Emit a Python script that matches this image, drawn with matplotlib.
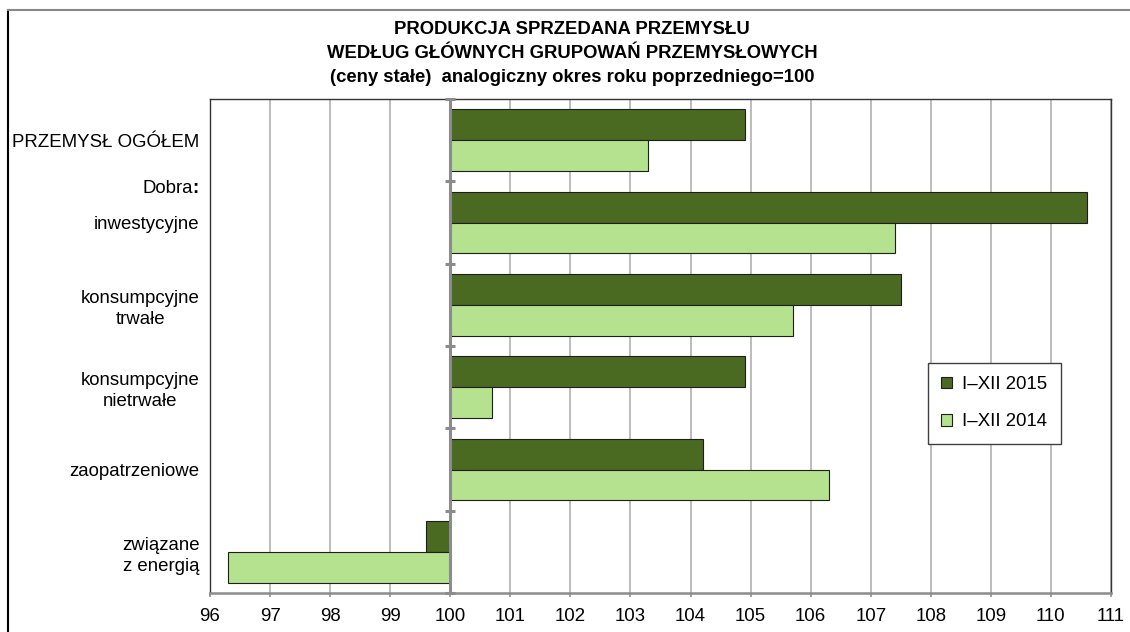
import matplotlib
matplotlib.use("Agg")
import matplotlib.pyplot as plt
from matplotlib.patches import Patch
from matplotlib.lines import Line2D
from matplotlib.transforms import offset_copy
import numpy as np

plt.rcParams['font.family'] = ['Liberation Sans', 'DejaVu Sans']

# ---- data ----
categories = ["PRZEMYSŁ OGÓŁEM", "inwestycyjne", "konsumpcyjne\ntrwałe",
              "konsumpcyjne\nnietrwałe", "zaopatrzeniowe", "związane\nz energią"]
group_label = "Dobra"
series_names = ["I–XII 2015", "I–XII 2014"]
values_2015 = [104.9, 110.6, 107.5, 104.9, 104.2, 99.6]
values_2014 = [103.3, 107.4, 105.7, 100.7, 106.3, 96.3]
x_ticks = list(range(96, 112))
base_value = 100
title_lines = ["PRODUKCJA SPRZEDANA PRZEMYSŁU",
               "WEDŁUG GŁÓWNYCH GRUPOWAŃ PRZEMYSŁOWYCH",
               "(ceny stałe)  analogiczny okres roku poprzedniego=100"]

# ---- style ----
W, H = 1130, 632
dark = '#4A6A22'
light = '#B5E28E'
fs = 13.4

fig = plt.figure(figsize=(W / 100, H / 100), dpi=100)
ax = fig.add_axes([210 / W, 1 - 593 / H, 901 / W, 494 / H])

n = len(categories)
y = np.arange(n)
h = 0.375
v15 = np.array(values_2015)
v14 = np.array(values_2014)
ax.barh(y - h / 2, v15 - base_value, left=base_value, height=h, color=dark,
        edgecolor='#1E1E1E', linewidth=0.8, zorder=3, label=series_names[0])
ax.barh(y + h / 2, v14 - base_value, left=base_value, height=h, color=light,
        edgecolor='#1E1E1E', linewidth=0.8, zorder=3, label=series_names[1])

ax.set_xlim(x_ticks[0], x_ticks[-1])
ax.set_ylim(n - 0.5, -0.5)
ax.set_xticks(x_ticks)
ax.set_xticklabels([str(t) for t in x_ticks], fontsize=fs)
ax.set_yticks(y)
ax.set_yticklabels(categories, fontsize=fs, linespacing=1.3)
for lbl in ax.get_yticklabels():
    lbl.set_multialignment('center')
ax.tick_params(axis='y', length=0, pad=7.5)
ax.tick_params(axis='x', length=3, width=1.2, color='#8C8C8C', pad=8)

ax.grid(axis='x', color='#B0B0B0', linewidth=1.2, zorder=0)
ax.set_axisbelow(True)

for side in ['left', 'top', 'right']:
    ax.spines[side].set_color('#333333')
    ax.spines[side].set_linewidth(1.0)
ax.spines['bottom'].set_color('#8C8C8C')
ax.spines['bottom'].set_linewidth(1.8)

# category axis at 100 with cross ticks at category boundaries
ax.axvline(base_value, color='#8C8C8C', linewidth=2.2, zorder=4)
bounds = np.arange(n + 1) - 0.5
ax.plot(np.full(len(bounds), base_value), bounds, linestyle='none', marker='_',
        markersize=7.5, markeredgewidth=2.2, color='#8C8C8C', zorder=4, clip_on=False)

# group label "Dobra:" (colon bold as in the original)
tr = ax.get_yaxis_transform()
ax.text(-12 / 901, 0.586, ":", transform=tr, ha='right', va='center',
        fontsize=fs, fontweight='bold')
ax.text(-12 / 901, 0.586, group_label,
        transform=offset_copy(tr, fig=fig, x=-4.6, units='dots'),
        ha='right', va='center', fontsize=fs)

# legend
handles = [Patch(facecolor=dark, edgecolor='#1E1E1E', linewidth=0.8),
           Patch(facecolor=light, edgecolor='#1E1E1E', linewidth=0.8)]
leg = ax.legend(handles, series_names, loc='upper left',
                bbox_to_anchor=((928 - 210) / 901, (593 - 363) / 494),
                borderaxespad=0, fontsize=fs, frameon=True, fancybox=False,
                framealpha=1, edgecolor='#404040', labelspacing=1.1,
                handlelength=0.6, handleheight=0.6, handletextpad=0.55,
                borderpad=0.7)
leg.get_frame().set_linewidth(1.0)
leg.set_zorder(5)

# title
for line, yy in zip(title_lines, [29, 54, 77]):
    fig.text(572 / W, 1 - yy / H, line, ha='center', va='center',
             fontsize=13.3, fontweight='bold')

# outer border (partially visible)
fig.add_artist(Line2D([8 / W, 8 / W], [0, 1 - 9.5 / H], transform=fig.transFigure,
                      color='black', linewidth=1.5))
fig.add_artist(Line2D([8 / W, 1], [1 - 9.5 / H, 1 - 9.5 / H], transform=fig.transFigure,
                      color='#888888', linewidth=1.5))

fig.savefig('out.png', dpi=100)
